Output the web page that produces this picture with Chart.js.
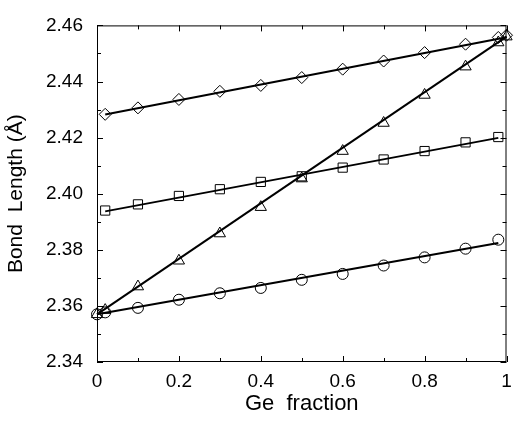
<!DOCTYPE html>
<html>
<head>
<meta charset="utf-8">
<script src="https://cdn.jsdelivr.net/npm/chart.js@4.4.0/dist/chart.umd.min.js"></script>
<style>
  html, body { margin: 0; padding: 0; background: #fff; }
  #wrap { width: 514px; height: 422px; }
</style>
</head>
<body>
<div id="wrap"><canvas id="myChart"></canvas></div>
<script>
// data

const geFraction = [0, 0.02, 0.1, 0.2, 0.3, 0.4, 0.5, 0.6, 0.7, 0.8, 0.9, 0.98, 1];

const diamonds  = [null, 2.4283, 2.4306, 2.4336, 2.4365, 2.4386, 2.4414, 2.4444, 2.4473, 2.4503, 2.4533, 2.4557, 2.4565];
const squares   = [null, 2.3940, 2.3962, 2.3992, 2.4016, 2.4042, 2.4062, 2.4093, 2.4122, 2.4152, 2.4183, 2.4202, null];
const triangles = [2.3570, 2.3585, 2.3669, 2.3761, 2.3858, 2.3952, 2.4054, 2.4152, 2.4252, 2.4352, 2.4453, 2.4539, 2.4560];
const circles   = [2.3570, 2.3577, 2.3593, 2.3622, 2.3645, 2.3664, 2.3693, 2.3714, 2.3744, 2.3773, 2.3804, 2.3836, null];

// straight fit lines: end points
const fitDiamondX  = [0.02, 1];    const fitDiamondY  = [2.4282, 2.4558];
const fitSquareX   = [0.02, 0.98]; const fitSquareY   = [2.3937, 2.4199];
const fitTriangleX = [0, 1];       const fitTriangleY = [2.3570, 2.4560];
const fitCircleX   = [0, 0.98];    const fitCircleY   = [2.3570, 2.3824];

const xTickLabels = ['0', '0.2', '0.4', '0.6', '0.8', '1'];
const yTickLabels = ['2.34', '2.36', '2.38', '2.40', '2.42', '2.44', '2.46'];

const FONT = "'Liberation Sans', Arial, Helvetica, sans-serif";

function pts(xs, ys) {
    let out = [];
    for (let i = 0; i < xs.length; i++) {
        if (ys[i] !== null) out.push({x: xs[i], y: ys[i]});
    }
    return out;
}

function markers(ys, style, r) {
    return {
        data: pts(geFraction, ys),
        showLine: false,
        pointStyle: style,
        pointRadius: r,
        pointBorderWidth: 1,
        pointBorderColor: '#000',
        pointBackgroundColor: 'rgba(0,0,0,0)',
        clip: false,
    };
}

function fit(xs, ys) {
    return {
        data: pts(xs, ys),
        showLine: true,
        pointRadius: 0,
        borderColor: '#000',
        borderWidth: 2,
        clip: false,
    };
}

// inside ticks on all four sides + the box

const frameTicks = {
    id: 'frameTicks',
    afterDraw(chart) {
        const {ctx, chartArea: a, scales: {x, y}} = chart;
        ctx.save();
        ctx.strokeStyle = '#000';
        ctx.lineWidth = 1;
        ctx.strokeRect(a.left + 0.5, a.top + 0.5, a.right - a.left - 1, a.bottom - a.top - 1);
        ctx.beginPath();
        for (let t of x.ticks) {
            let px = Math.round(x.getPixelForValue(t.value)) + 0.5;
            let len = Math.round(t.value * 10) % 2 === 0 ? 6 : 4;
            ctx.moveTo(px, a.bottom); ctx.lineTo(px, a.bottom - len);
            ctx.moveTo(px, a.top); ctx.lineTo(px, a.top + len);
        }
        for (let t of y.ticks) {
            let py = Math.round(y.getPixelForValue(t.value)) + 0.5;
            let len = Math.round(t.value * 100) % 2 === 0 ? 6 : 4;
            ctx.moveTo(a.left, py); ctx.lineTo(a.left + len, py);
            ctx.moveTo(a.right, py); ctx.lineTo(a.right - len, py);
        }
        ctx.stroke();
        ctx.restore();
    }
};

let myChart = document.getElementById('myChart').getContext('2d');

Chart.defaults.font.family = FONT;
Chart.defaults.color = '#000';

let chart = new Chart(myChart, {
    type: 'scatter',
    data: {
        datasets: [
            markers(diamonds, 'rectRot', 6),
            markers(squares, 'rect', 6.5),
            markers(triangles, 'triangle', 6.5),
            markers(circles, 'circle', 5.5),
            fit(fitDiamondX, fitDiamondY),
            fit(fitSquareX, fitSquareY),
            fit(fitTriangleX, fitTriangleY),
            fit(fitCircleX, fitCircleY),
        ]
    },
    plugins: [frameTicks],
    options: {
        responsive: true,
        maintainAspectRatio: false,
        animation: false,
        layout: { padding: { top: 14, right: 5, left: 0, bottom: 0 } },
        scales: {
            x: {
                type: 'linear',
                min: 0, max: 1,
                afterFit(s) { s.height = 60; s.paddingLeft = 0; s.paddingRight = 0; },
                grid: { display: false, drawTicks: false },
                border: { display: false },
                ticks: {
                    stepSize: 0.1,
                    autoSkip: false,
                    maxRotation: 0,
                    padding: 8,
                    font: { size: 19 },
                    callback: v => {
                        let k = Math.round(v * 10);
                        return k % 2 === 0 ? xTickLabels[k / 2] : '';
                    }
                },
                title: {
                    display: true,
                    text: 'Ge  fraction',
                    font: { size: 22 },
                    padding: { top: 0, bottom: 5 }
                }
            },
            y: {
                min: 2.34, max: 2.46,
                afterFit(s) { s.width = 97; },
                grid: { display: false, drawTicks: false },
                border: { display: false },
                ticks: {
                    stepSize: 0.01,
                    autoSkip: false,
                    padding: 14,
                    font: { size: 19 },
                    callback: v => {
                        let k = Math.round((v - 2.34) * 100);
                        return k % 2 === 0 ? yTickLabels[k / 2] : '';
                    }
                },
                title: {
                    display: true,
                    text: 'Bond  Length (Å)',
                    font: { size: 21 },
                    padding: { top: 4, bottom: 0 }
                }
            }
        },
        plugins: {
            legend: { display: false },
            tooltip: { enabled: false }
        }
    }
});
</script>
</body>
</html>
